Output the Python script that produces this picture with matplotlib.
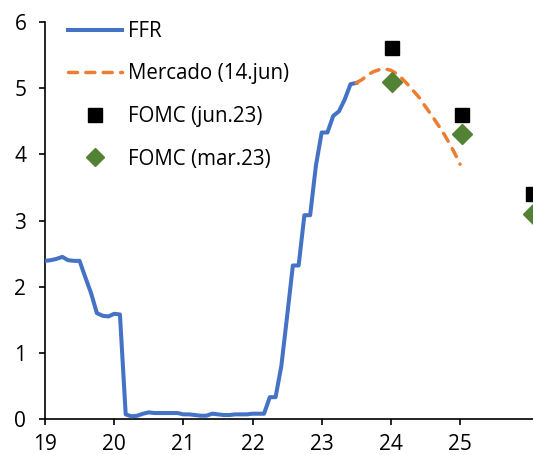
import matplotlib
matplotlib.use('Agg')
import matplotlib.pyplot as plt
import numpy as np

plt.rcParams['font.family'] = ['Open Sans', 'DejaVu Sans']

# FFR, monthly from jan.19 to jun.23
ffr = [2.39, 2.40, 2.42, 2.45, 2.40, 2.39, 2.39, 2.14, 1.90, 1.60,
       1.56, 1.55, 1.59, 1.58, 0.07, 0.04, 0.05, 0.08, 0.10, 0.09,
       0.09, 0.09, 0.09, 0.09, 0.07, 0.07, 0.06, 0.05, 0.05, 0.08,
       0.07, 0.06, 0.06, 0.07, 0.07, 0.07, 0.08, 0.08, 0.08, 0.33,
       0.33, 0.80, 1.55, 2.32, 2.32, 3.08, 3.08, 3.83, 4.33, 4.33,
       4.58, 4.65, 4.83, 5.06, 5.08]
# market implied path (14.jun), jun.23 to dec.24
mercado = [5.08, 5.13, 5.20, 5.25, 5.28, 5.29, 5.27, 5.22, 5.14, 5.05,
           4.95, 4.85, 4.72, 4.60, 4.47, 4.34, 4.19, 4.03, 3.85]
# FOMC median projections, end of 2023 / 2024 / 2025
fomc_years = [24.02, 25.03, 26.05]
fomc_jun23 = [5.6, 4.6, 3.4]
fomc_mar23 = [5.1, 4.3, 3.1]

x_ffr = 19 + np.arange(len(ffr)) / 12.0
x_merc = x_ffr[-1] + np.arange(len(mercado)) / 12.0

fig = plt.figure(figsize=(5.33, 4.55), dpi=100)
ax = fig.add_axes([45 / 533, 36 / 455, 1 - 45 / 533, 397 / 455])

ax.plot(x_ffr, ffr, color='#4472C4', lw=2.9, label='FFR',
        solid_joinstyle='round', zorder=3)
ax.plot(x_merc, mercado, color='#ED7D31', lw=2.5, label='Mercado (14.jun)',
        linestyle=(0, (2.6, 2.4)), dash_capstyle='round', zorder=3)
ax.plot(fomc_years, fomc_jun23, ls='none', marker='s', ms=10.5,
        color='black', label='FOMC (jun.23)', zorder=4)
ax.plot(fomc_years, fomc_mar23, ls='none', marker='D', ms=10,
        color='#548235', label='FOMC (mar.23)', zorder=4)

ax.set_xlim(19, 19 + 488 / 69.17)
ax.set_ylim(0, 6)
ax.set_xticks(range(19, 26))
ax.set_yticks(range(0, 7))

for s in ['top', 'right']:
    ax.spines[s].set_visible(False)
for s in ['left', 'bottom']:
    ax.spines[s].set_linewidth(1.2)
ax.tick_params(axis='both', length=4.5, width=1.2, labelsize=15)
ax.tick_params(axis='x', pad=6)
ax.tick_params(axis='y', pad=9)

ax.legend(loc='upper left', bbox_to_anchor=(0.047, 1.003), frameon=False,
          fontsize=14.8, handlelength=2.65, handletextpad=0.27,
          labelspacing=1.05, borderpad=0, borderaxespad=0, numpoints=1,
          markerscale=0.9)

fig.savefig('out.png', dpi=100)
